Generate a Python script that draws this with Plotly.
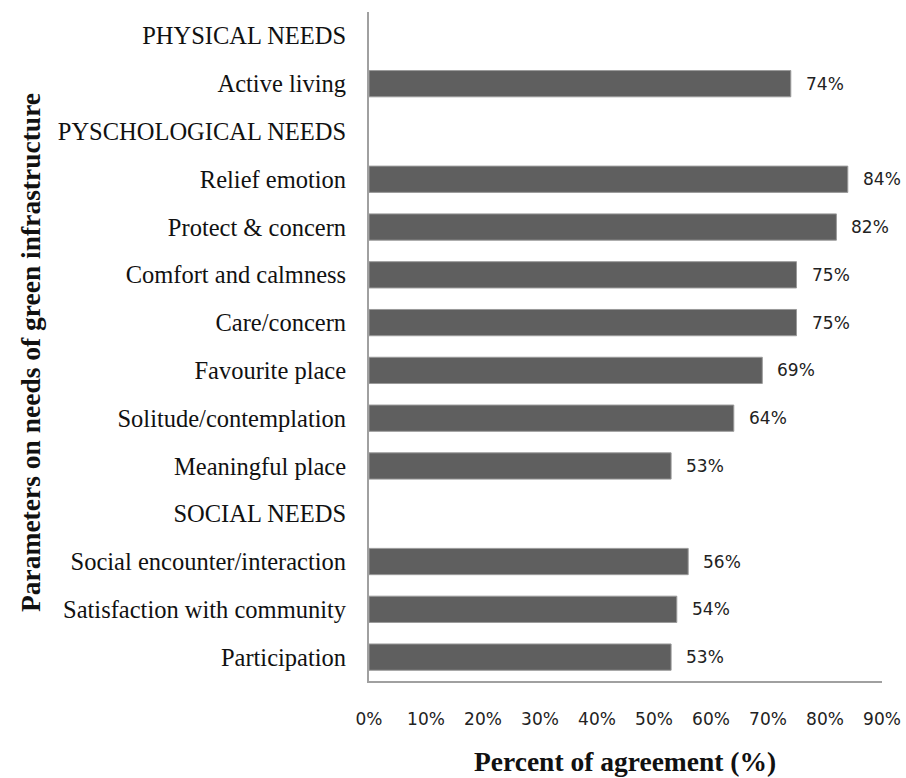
import plotly.graph_objects as go

categories = [
    "PHYSICAL NEEDS",
    "Active living",
    "PYSCHOLOGICAL NEEDS",
    "Relief emotion",
    "Protect & concern",
    "Comfort and calmness",
    "Care/concern",
    "Favourite place",
    "Solitude/contemplation",
    "Meaningful place",
    "SOCIAL NEEDS",
    "Social encounter/interaction",
    "Satisfaction with community",
    "Participation",
]
values = [None, 0.74, None, 0.84, 0.82, 0.75, 0.75, 0.69, 0.64, 0.53, None, 0.56, 0.54, 0.53]
x_ticks = [0, 0.1, 0.2, 0.3, 0.4, 0.5, 0.6, 0.7, 0.8, 0.9]
x_ticklabels = ["0%", "10%", "20%", "30%", "40%", "50%", "60%", "70%", "80%", "90%"]

serif = "Liberation Serif, Times New Roman, serif"
sans = "DejaVu Sans, Verdana, sans-serif"

fig = go.Figure()
fig.add_trace(go.Bar(
    y=categories,
    x=values,
    orientation="h",
    marker=dict(color="#5f5f5f", line=dict(color="#9a9a9a", width=1)),
    width=0.55,
    hoverinfo="skip",
))

for c, v in zip(categories, values):
    if v is None:
        continue
    fig.add_annotation(
        x=v, y=c, xref="x", yref="y",
        text=f"{round(v*100)}%", showarrow=False,
        xanchor="left", xshift=13,
        font=dict(family=sans, size=17, color="#222222"),
    )

fig.update_layout(
    width=906, height=778,
    margin=dict(l=369, r=24, t=12, b=97),
    plot_bgcolor="white", paper_bgcolor="white",
    showlegend=False,
)
fig.update_xaxes(
    range=[0, 0.9], automargin=False,
    tickvals=x_ticks, ticktext=x_ticklabels,
    showgrid=False, zeroline=False,
    showline=True, linecolor="#a0a0a0", linewidth=2,
    ticks="", ticklabelstandoff=22,
    tickfont=dict(family=sans, size=17, color="#222222"),
)
fig.update_yaxes(
    categoryorder="array", categoryarray=categories[::-1],
    autorange=False, range=[-0.5, len(categories) - 0.5], automargin=False,
    showgrid=False, zeroline=False,
    showline=True, linecolor="#a0a0a0", linewidth=2,
    ticks="", ticklabelstandoff=16,
    tickfont=dict(family=serif, size=24.5, color="#111111"),
)

fig.add_annotation(
    text="<b>Parameters on needs of green infrastructure</b>",
    xref="paper", yref="paper", x=(30 - 369) / 513, y=(681 - 353) / 669,
    textangle=-90, showarrow=False, xanchor="center", yanchor="middle",
    font=dict(family=serif, size=27.5, color="#111111"),
)
fig.add_annotation(
    text="<b>Percent of agreement (%)</b>",
    xref="paper", yref="paper", x=(625 - 369) / 513, y=-(762 - 681) / 669,
    showarrow=False, xanchor="center", yanchor="middle",
    font=dict(family=serif, size=27.5, color="#111111"),
)

fig.write_html(
    "out.html",
    config={"displayModeBar": False},
    post_script=(
        "document.body.style.margin='0';"
        "document.body.style.overflow='hidden';"
        "document.documentElement.style.overflow='hidden';"
    ),
)
